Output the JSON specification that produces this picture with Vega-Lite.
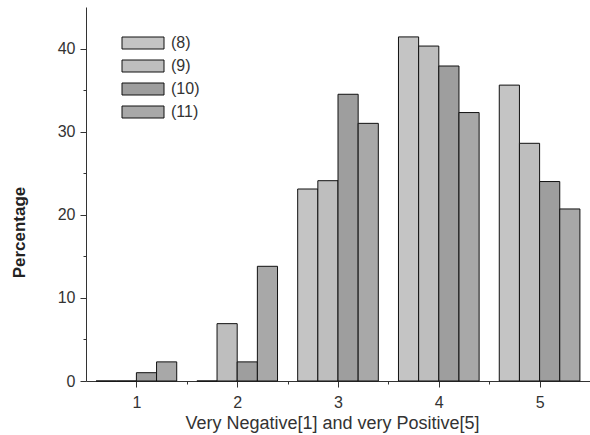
{
  "$schema": "https://vega.github.io/schema/vega-lite/v6.json",
  "width": 504,
  "height": 374,
  "autosize": "none",
  "padding": {"left": 86, "top": 7, "right": 0, "bottom": 54},
  "background": "white",
  "config": {
    "font": "Liberation Sans",
    "view": {"stroke": null},
    "axis": {
      "domainColor": "#333333",
      "tickColor": "#333333",
      "labelColor": "#333333",
      "titleColor": "#222222",
      "labelFontSize": 16,
      "grid": false
    }
  },
  "data": {
    "values": [
      {"cat": 1, "series": "(8)", "value": 0},
      {"cat": 1, "series": "(9)", "value": 0},
      {"cat": 1, "series": "(10)", "value": 1.0},
      {"cat": 1, "series": "(11)", "value": 2.3},
      {"cat": 2, "series": "(8)", "value": 0},
      {"cat": 2, "series": "(9)", "value": 6.9},
      {"cat": 2, "series": "(10)", "value": 2.3},
      {"cat": 2, "series": "(11)", "value": 13.8},
      {"cat": 3, "series": "(8)", "value": 23.1},
      {"cat": 3, "series": "(9)", "value": 24.1},
      {"cat": 3, "series": "(10)", "value": 34.5},
      {"cat": 3, "series": "(11)", "value": 31.0},
      {"cat": 4, "series": "(8)", "value": 41.4},
      {"cat": 4, "series": "(9)", "value": 40.3},
      {"cat": 4, "series": "(10)", "value": 37.9},
      {"cat": 4, "series": "(11)", "value": 32.3},
      {"cat": 5, "series": "(8)", "value": 35.6},
      {"cat": 5, "series": "(9)", "value": 28.6},
      {"cat": 5, "series": "(10)", "value": 24.0},
      {"cat": 5, "series": "(11)", "value": 20.7}
    ]
  },
  "layer": [
    {
      "mark": {"type": "bar", "stroke": "#111111", "strokeWidth": 1},
      "encoding": {
        "x": {"field": "cat", "type": "ordinal", "scale": {"paddingInner": 0.2, "paddingOuter": 0.1}, "axis": null},
        "xOffset": {"field": "series", "type": "nominal", "scale": {"domain": ["(8)", "(9)", "(10)", "(11)"], "paddingInner": 0, "paddingOuter": 0}},
        "y": {
          "field": "value", "type": "quantitative",
          "scale": {"domain": [0, 45], "nice": false},
          "axis": {
            "title": "Percentage",
            "titleFontSize": 17,
            "titleFontWeight": "bold",
            "titleX": -58,
            "titleY": 225,
            "values": [0, 5, 10, 15, 20, 25, 30, 35, 40],
            "labelExpr": "datum.value % 10 === 0 ? datum.label : ''",
            "tickSize": {"condition": {"test": "datum.value % 10 === 0", "value": 6}, "value": 3},
            "labelPadding": 5
          }
        },
        "fill": {
          "field": "series", "type": "nominal",
          "scale": {"domain": ["(8)", "(9)", "(10)", "(11)"], "range": ["#c4c4c4", "#bebebe", "#9e9e9e", "#a8a8a8"]},
          "legend": {
            "title": null,
            "orient": "none",
            "legendX": 49,
            "legendY": 28,
            "padding": 0,
            "symbolType": "M-3.5,-1H3.5V1H-3.5Z",
            "symbolSize": 144,
            "symbolStrokeColor": "#111111",
            "symbolStrokeWidth": 1,
            "labelFontSize": 16,
            "labelColor": "#333333",
            "labelOffset": 20,
            "rowPadding": 7
          }
        }
      }
    },
    {
      "mark": {"type": "point", "opacity": 0},
      "encoding": {
        "x": {
          "field": "cat", "type": "quantitative",
          "scale": {"domain": [0.5, 5.5], "nice": false, "zero": false},
          "axis": {
            "orient": "bottom",
            "title": "Very Negative[1] and very Positive[5]",
            "titleFontSize": 18,
            "titleFontWeight": "normal",
            "titleColor": "#333333",
            "titleX": 246,
            "titlePadding": 4,
            "values": [1, 1.5, 2, 2.5, 3, 3.5, 4, 4.5, 5, 5.5],
            "labelExpr": "datum.value % 1 === 0 ? format(datum.value, 'd') : ''",
            "tickSize": {"condition": {"test": "datum.value % 1 === 0", "value": 6}, "value": 3},
            "labelPadding": 7
          }
        },
        "y": {"field": "value", "type": "quantitative"}
      }
    }
  ],
  "resolve": {"scale": {"x": "independent"}}
}
